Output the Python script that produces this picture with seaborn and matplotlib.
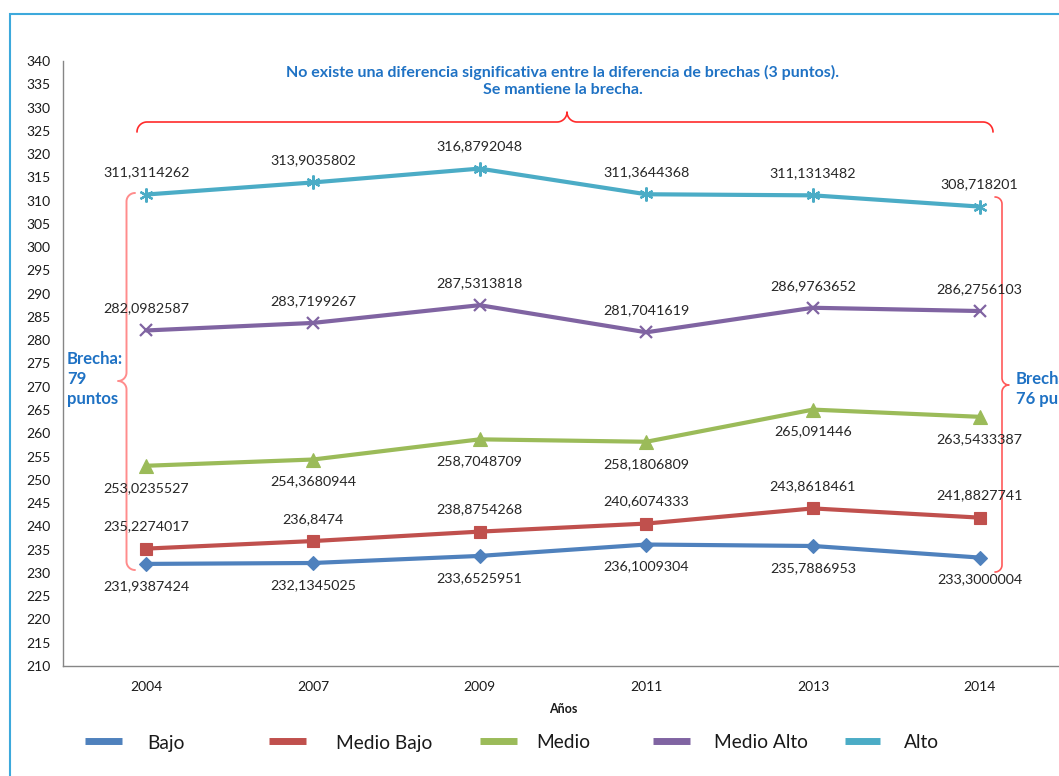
import numpy as np
import pandas as pd
import matplotlib
matplotlib.use("Agg")
import matplotlib.pyplot as plt
import seaborn as sns

# ---------------- data ----------------
years = ["2004", "2007", "2009", "2011", "2013", "2014"]
series_names = ["Bajo", "Medio Bajo", "Medio", "Medio Alto", "Alto"]
bajo = [231.9387424, 232.1345025, 233.6525951, 236.1009304, 235.7886953, 233.3000004]
medio_bajo = [235.2274017, 236.8474, 238.8754268, 240.6074333, 243.8618461, 241.8827741]
medio = [253.0235527, 254.3680944, 258.7048709, 258.1806809, 265.091446, 263.5433387]
medio_alto = [282.0982587, 283.7199267, 287.5313818, 281.7041619, 286.9763652, 286.2756103]
alto = [311.3114262, 313.9035802, 316.8792048, 311.3644368, 311.1313482, 308.718201]
y_ticks = list(range(210, 345, 5))
x_label = "Años"
note_text = "No existe una diferencia significativa entre la diferencia de brechas (3 puntos).\nSe mantiene la brecha."
gap_left = "Brecha:\n79\npuntos"
gap_right = "Brecha:\n76 puntos"

# ---------------- styles ----------------
colors = {"Bajo": "#4F81BD", "Medio Bajo": "#C0504D", "Medio": "#9BBB59",
          "Medio Alto": "#8064A2", "Alto": "#4BACC6"}
markers = {"Bajo": "D", "Medio Bajo": "s", "Medio": "^", "Medio Alto": "x", "Alto": (6, 2, 0)}
msizes = {"Bajo": 7, "Medio Bajo": 8.5, "Medio": 10, "Medio Alto": 9, "Alto": 10}
label_side = {"Bajo": 1, "Medio Bajo": -1, "Medio": 1, "Medio Alto": -1, "Alto": -1}  # 1 below, -1 above

sns.set_theme(style="white")
FONT = ["Lato", "DejaVu Sans"]
plt.rcParams["font.family"] = FONT

values = {"Bajo": bajo, "Medio Bajo": medio_bajo, "Medio": medio,
          "Medio Alto": medio_alto, "Alto": alto}
rows = []
for name in series_names:
    for i, v in enumerate(values[name]):
        rows.append({"pos": i, "Año": years[i], "Grupo": name, "Puntaje": v})
df = pd.DataFrame(rows)

W, H = 1059, 776
fig = plt.figure(figsize=(W / 100, H / 100), dpi=100)
fig.patch.set_facecolor("white")

ax = fig.add_axes([63 / W, 110 / H, 1000 / W, 605 / H])
sns.lineplot(data=df, x="pos", y="Puntaje", hue="Grupo",
             hue_order=series_names, palette=colors, linewidth=3,
             legend=False, ax=ax, sort=True)

color_to_name = {matplotlib.colors.to_hex(c).lower(): n for n, c in colors.items()}
for ln in ax.lines:
    name = color_to_name.get(matplotlib.colors.to_hex(ln.get_color()).lower())
    if name is None:
        continue
    ln.set_marker(markers[name])
    ln.set_markersize(msizes[name])
    ln.set_markeredgecolor(colors[name])
    ln.set_markerfacecolor(colors[name])
    ln.set_markeredgewidth(1.6 if name in ("Medio Alto", "Alto") else 0.8)
    ln.set_solid_capstyle("round")

# data labels
for name in series_names:
    for i, v in enumerate(values[name]):
        txt = repr(float(v)).replace(".", ",")
        ax.annotate(txt, (i, v), xytext=(0, -22 * label_side[name]),
                    textcoords="offset pixels", ha="center", va="center",
                    fontsize=10.3, color="#262626", family=FONT)

ax.set_xlim(-0.5, 5.5)
ax.set_ylim(210, 340)
ax.set_yticks(y_ticks)
ax.set_yticklabels([str(t) for t in y_ticks], fontsize=10, color="#1a1a1a")
ax.set_xticks(range(len(years)))
ax.set_xticklabels(years, fontsize=10, color="#1a1a1a")
ax.set_xticks(np.arange(-0.5, 6.0, 1.0), minor=True)
ax.tick_params(axis="x", which="major", length=0, pad=11)
ax.tick_params(axis="x", which="minor", length=5, color="#868686", width=1, direction="out")
ax.tick_params(axis="y", length=5, color="#868686", width=1, direction="out", pad=4)
ax.set_xlabel(x_label, fontsize=9, fontweight="bold", color="#1a1a1a", labelpad=7)
ax.set_ylabel("")
for s in ("top", "right"):
    ax.spines[s].set_visible(False)
for s in ("left", "bottom"):
    ax.spines[s].set_color("#868686")
    ax.spines[s].set_linewidth(1)
ax.grid(False)
ax.patch.set_alpha(0)

# ---------------- overlay (pixel coords) ----------------
ov = fig.add_axes([0, 0, 1, 1], zorder=-1)
ov.set_xlim(0, W)
ov.set_ylim(H, 0)
ov.axis("off")

# frame
ov.plot([10, 10, W + 5], [H + 5, 14, 14], color="#3DA9DC", lw=1.5, solid_joinstyle="miter")


def brace_uv(L, m, r, n=20):
    pts = []
    t = np.linspace(np.pi, np.pi / 2, n)
    pts += list(zip(r + r * np.cos(t), -r + r * np.sin(t)))
    t = np.linspace(-np.pi / 2, 0, n)
    pts += list(zip(m - r + r * np.cos(t), r + r * np.sin(t)))
    t = np.linspace(np.pi, 3 * np.pi / 2, n)
    pts += list(zip(m + r + r * np.cos(t), r + r * np.sin(t)))
    t = np.linspace(np.pi / 2, 0, n)
    pts += list(zip(L - r + r * np.cos(t), -r + r * np.sin(t)))
    return np.array(pts)


# top brace
p = brace_uv(856, 430, 10)
ov.plot(137 + p[:, 0], 122 - p[:, 1], color="#FF2A2A", lw=1.2, zorder=5)
# left brace
p = brace_uv(377, 188, 8.5)
ov.plot(126.5 - p[:, 1], 193 + p[:, 0], color="#FF8C8C", lw=1.4, zorder=5)
# right brace
p = brace_uv(375, 188, 7)
ov.plot(1002 + p[:, 1], 197 + p[:, 0], color="#FF5A5A", lw=1.2, zorder=5)

blue = "#1F72C4"
ov.text(563, 81, note_text, ha="center", va="center", fontsize=11.5, fontweight="bold",
        color=blue, linespacing=1.2, family=FONT)
ov.text(67, 379, gap_left, ha="left", va="center", fontsize=12, fontweight="bold",
        color=blue, linespacing=1.3, family=FONT)
ov.text(1016, 389, gap_right, ha="left", va="center", fontsize=12, fontweight="bold",
        color=blue, linespacing=1.3, family=FONT)

# legend (drawn manually to match layout)
leg_handles = {"Bajo": (85, 122, 147), "Medio Bajo": (269, 306, 336), "Medio": (480, 517, 536),
               "Medio Alto": (653, 690, 714), "Alto": (845, 880, 904)}
for name in series_names:
    x0, x1, xt = leg_handles[name]
    ov.plot([x0, x1], [741, 741], color=colors[name], lw=5, solid_capstyle="butt")
    ov.text(xt, 743, name, ha="left", va="center", fontsize=13.8, color="#1a1a1a", family=FONT)

fig.savefig("out.png", dpi=100)
